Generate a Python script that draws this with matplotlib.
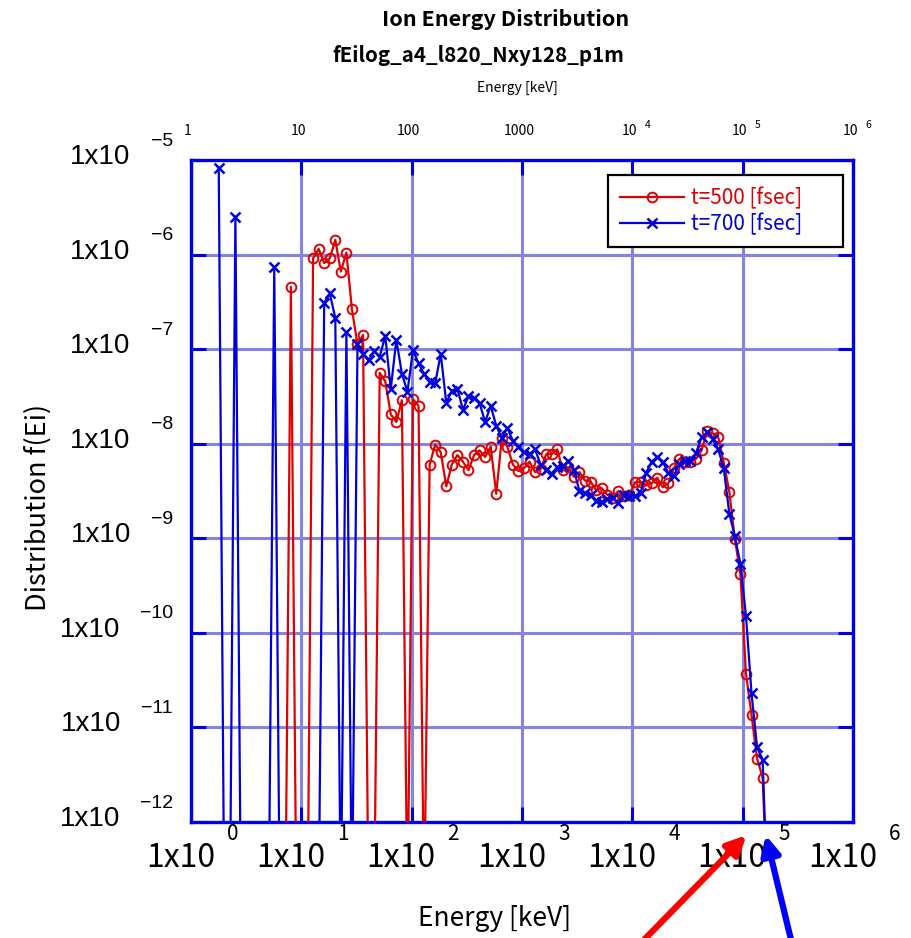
import numpy as np
import matplotlib
matplotlib.use("Agg")
import matplotlib.pyplot as plt

# ---- energy bins (log-spaced, index k -> E = 10**(LOG_STEP*k) keV) ----
FIRST_BIN = 5
LOG_STEP = 0.0503

# ---- log10 of the distribution f(Ei); None marks an empty bin ----
red_log_f = [  # t = 500 fsec, bins 5..104
    None, None, None, None, None,
    None, None, None, None, None, None, None, None, -6.34, None,
    None, None, -6.04, -5.94, -6.09, -6.04, -5.845, -6.18, -5.98, -6.58,
    -6.95, -6.85, None, None, -7.25, -7.34, -7.69, -7.77, -7.54, None,
    -7.53, -7.60, None, -8.22, -8.01, -8.09, -8.45, -8.22, -8.12, -8.19,
    -8.28, -8.12, -8.07, -8.14, -8.03, -8.53, -7.94, -8.03, -8.22, -8.29,
    -8.26, -8.19, -8.30, -8.27, -8.11, -8.11, -8.06, -8.28, -8.25, -8.35,
    -8.30, -8.39, -8.40, -8.49, -8.47, -8.54, -8.57, -8.50, -8.55, -8.54,
    -8.41, -8.40, -8.44, -8.42, -8.36, -8.46, -8.42, -8.26, -8.16, -8.19,
    -8.19, -8.16, -8.07, -7.87, -7.89, -7.93, -8.20, -8.51, -9.01, -9.38,
    -10.43, -10.87, -11.33, -11.53, None,
]
blue_log_f = [  # t = 700 fsec, bins 5..104
    -5.08, None, None, -5.60, None,
    None, None, None, None, None, -6.13, None, None, None, None,
    None, None, None, None, -6.51, -6.41, -6.67, None, -6.82, None,
    -6.95, -7.05, -7.12, -7.02, -7.08, -6.86, -7.42, -6.90, -7.26, -7.45,
    -7.01, -7.15, -7.26, -7.35, -7.36, -7.05, -7.57, -7.44, -7.42, -7.64,
    -7.50, -7.52, -7.57, -7.77, -7.60, -7.81, -7.94, -7.83, -7.97, -8.03,
    -8.09, -8.11, -8.06, -8.22, -8.28, -8.32, -8.25, -8.24, -8.18, -8.28,
    -8.50, -8.52, -8.54, -8.61, -8.62, -8.58, -8.57, -8.63, -8.54, -8.55,
    -8.55, -8.52, -8.31, -8.19, -8.14, -8.19, -8.31, -8.34, -8.21, -8.18,
    -8.18, -8.10, -7.93, -7.88, -7.95, -8.06, -8.26, -8.74, -8.98, -9.27,
    -9.82, -10.64, -11.21, -11.34, None,
]
series_labels = ["t=500 [fsec]", "t=700 [fsec]"]

# cut-off energies marked by arrows below the energy axis [keV]
red_cutoff_kev = 1.08e5
blue_cutoff_kev = 1.62e5

x_decades = list(range(0, 7))
y_decades = list(range(-12, -4))
top_labels = ["1", "10", "100", "1000", "10", "10", "10"]
top_exponents = ["", "", "", "", "4", "5", "6"]

EMPTY_BIN_LEVEL = 1e-13   # empty bins are drawn just below the axis floor

RED = "#e00000"
BLUE = "#0000dd"
GRID = "#8484e6"
FRAME = "#0000e6"
LABEL_FONT = ["Liberation Sans", "DejaVu Sans"]
JP_FONT = ["Noto Sans CJK JP", "DejaVu Sans"]


def to_values(log_vals):
    return np.array([EMPTY_BIN_LEVEL if v is None else 10.0 ** v for v in log_vals])


energy_red = 10.0 ** (LOG_STEP * np.arange(FIRST_BIN, FIRST_BIN + len(red_log_f)))
energy_blue = 10.0 ** (LOG_STEP * np.arange(FIRST_BIN, FIRST_BIN + len(blue_log_f)))

W, H = 911, 938
fig = plt.figure(figsize=(W / 100, H / 100), dpi=100)
ax = fig.add_axes([191 / W, 1 - 822 / H, 662 / W, 662 / H])

ax.plot(energy_red, to_values(red_log_f), color=RED, lw=1.6, marker="o", ms=7,
        mfc="none", mec=RED, mew=1.4, label=series_labels[0], zorder=3)
ax.plot(energy_blue, to_values(blue_log_f), color=BLUE, lw=1.6, marker="x", ms=7,
        mew=1.8, label=series_labels[1], zorder=4)

ax.set_xscale("log")
ax.set_yscale("log")
ax.set_xlim(1, 1e6)
ax.set_ylim(1e-12, 1e-5)
ax.minorticks_off()
ax.set_xticks([10.0 ** d for d in x_decades])
ax.set_yticks([10.0 ** d for d in y_decades])
ax.grid(True, which="major", color=GRID, lw=2.2, zorder=0)
ax.set_axisbelow(True)
ax.tick_params(which="major", direction="in", length=11, width=2.2, color=FRAME,
               top=True, right=True, labelbottom=False, labelleft=False)
for s in ax.spines.values():
    s.set_color(FRAME)
    s.set_linewidth(2.4)

# left tick labels: 1x10 with raised exponent
ytrans = ax.get_yaxis_transform()
for d in y_decades:
    ex = ax.annotate("\u2212%d" % (-d), xy=(0, 10.0 ** d), xycoords=ytrans,
                     xytext=(-18, 19), textcoords="offset pixels",
                     ha="right", va="center", fontsize=14, family=LABEL_FONT)
    ax.annotate("1x10", xy=(0, 0.5), xycoords=ex, xytext=(-20, -16),
                textcoords="offset pixels", ha="right", va="center",
                fontsize=20, family=LABEL_FONT)

# bottom tick labels
xtrans = ax.get_xaxis_transform()
for d in x_decades:
    ax.annotate("1x10", xy=(10.0 ** d, 0), xycoords=xtrans, xytext=(24, -36),
                textcoords="offset pixels", ha="right", va="center",
                fontsize=23, family=JP_FONT)
    ax.annotate(str(d), xy=(10.0 ** d, 0), xycoords=xtrans, xytext=(36, -12),
                textcoords="offset pixels", ha="left", va="center",
                fontsize=15, family=JP_FONT)

# top tick labels
for d, lab, ex in zip(x_decades, top_labels, top_exponents):
    ax.annotate(lab, xy=(10.0 ** d, 1), xycoords=xtrans, xytext=(-3, 29),
                textcoords="offset pixels", ha="center", va="center",
                fontsize=10, family=JP_FONT)
    if ex:
        ax.annotate(ex, xy=(10.0 ** d, 1), xycoords=xtrans, xytext=(12, 35),
                    textcoords="offset pixels", ha="left", va="center",
                    fontsize=7.5, family=JP_FONT)

# titles and axis labels
fig.text(506 / W, 1 - 20 / H, "Ion Energy Distribution", ha="center", va="center",
         fontsize=15.5, fontweight="bold", family=JP_FONT)
fig.text(478 / W, 1 - 56 / H, "fEilog_a4_l820_Nxy128_p1m", ha="center", va="center",
         fontsize=14.8, fontweight="bold", family=JP_FONT)
fig.text(517 / W, 1 - 88 / H, "Energy [keV]", ha="center", va="center",
         fontsize=10, family=JP_FONT)
fig.text(495 / W, 1 - 918 / H, "Energy [keV]", ha="center", va="center",
         fontsize=19, family=JP_FONT)
fig.text(38 / W, 1 - 507 / H, "Distribution f(Ei)", ha="center", va="center",
         rotation=90, fontsize=19.5, family=JP_FONT)

# legend box spanning a fixed region in the upper right corner
leg = ax.legend(loc="upper left", bbox_to_anchor=(0.630, 0.868, 0.355, 0.109),
                mode="expand", borderaxespad=0, fancybox=False, framealpha=1,
                edgecolor="black", handlelength=3.1, handletextpad=0.35,
                labelspacing=0.2, borderpad=0.55,
                prop={"family": JP_FONT, "size": 15}, labelcolor="linecolor")
leg.get_frame().set_linewidth(1.6)
leg.set_zorder(10)

# arrows pointing at the cut-off energies
ax.annotate("", xy=(red_cutoff_kev, -0.02), xycoords=xtrans,
            xytext=(636, -10), textcoords="figure pixels",
            arrowprops=dict(arrowstyle="-|>", color="#ff0000", lw=4.5,
                            mutation_scale=28, shrinkA=0, shrinkB=0))
ax.annotate("", xy=(blue_cutoff_kev, -0.02), xycoords=xtrans,
            xytext=(793, -10), textcoords="figure pixels",
            arrowprops=dict(arrowstyle="-|>", color="#0000ff", lw=4.5,
                            mutation_scale=28, shrinkA=0, shrinkB=0))

fig.savefig("out.png", dpi=100)
